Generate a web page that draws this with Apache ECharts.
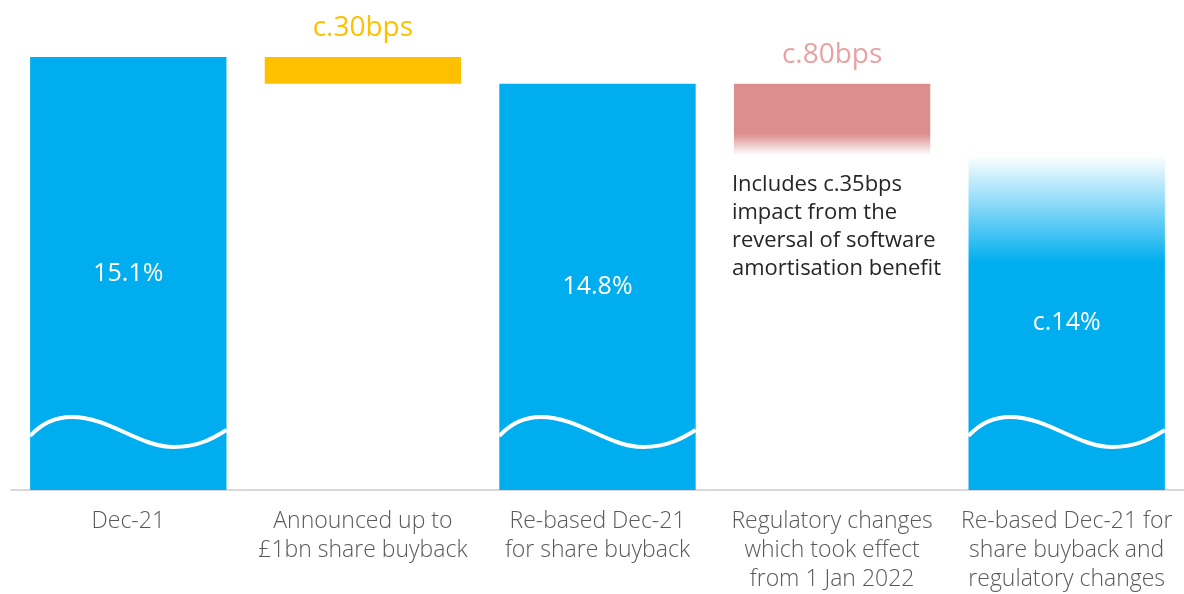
<!DOCTYPE html>
<html>
<head>
<meta charset="utf-8">
<script src="https://cdn.jsdelivr.net/npm/echarts@6/dist/echarts.min.js"></script>
<style>
  html, body { margin: 0; padding: 0; background: #ffffff; overflow: hidden; }
  #chart { width: 1184px; height: 594px; }
</style>
</head>
<body>
<div id="chart"></div>
<script>
// CET1 ratio bridge: Dec-21 to re-based Dec-21
const categories = [
  'Dec-21',
  'Announced up to\n£1bn share buyback',
  'Re-based Dec-21\nfor share buyback',
  'Regulatory changes\nwhich took effect\nfrom 1 Jan 2022',
  'Re-based Dec-21 for\nshare buyback and\nregulatory changes'
];
// ratio levels (%), null where the step is a movement
const totals = [15.1, null, 14.8, null, 14.0];
// movements (percentage points), null where the step is a total
const changes = [null, 0.3, null, 0.8, null];
const totalLabels = ['15.1%', '', '14.8%', '', 'c.14%'];
const changeLabels = ['', 'c.30bps', '', 'c.80bps', ''];
const noteText = 'Includes c.35bps\nimpact from the\nreversal of software\namortisation benefit';

const axisMin = 10.25;
const axisMax = 15.1;
const waveLevel = 10.9;   // vertical position of the broken-axis wave

const BLUE = '#00AEEF';
const YELLOW = '#FFC000';
const PINK = '#DC8E8E';
const FONT = '"Open Sans", "Noto Sans", sans-serif';

// build [index, low, high, kind] rows from the step values
const rows = [];
let level = null;
categories.forEach((c, i) => {
  if (totals[i] != null) {
    level = totals[i];
    rows.push([i, axisMin, totals[i], 'total']);
  } else {
    const hi = level;
    level = level - changes[i];
    rows.push([i, level, hi, 'change']);
  }
});

function renderStep(params, api) {
  const i = api.value(0);
  const low = api.value(1);
  const high = api.value(2);
  const kind = rows[params.dataIndex][3];
  const bw = api.size([1, 0])[0] * 0.837;
  const pTop = api.coord([i, high]);
  const pLow = api.coord([i, low]);
  const x0 = pTop[0] - bw / 2;
  const h = pLow[1] - pTop[1];
  const children = [];

  if (kind === 'total') {
    const isLast = i === categories.length - 1;
    const fill = isLast ? {
      type: 'linear', x: 0, y: 0, x2: 0, y2: 1,
      colorStops: [
        { offset: 0, color: 'rgba(0,174,239,0)' },
        { offset: 0.32, color: BLUE },
        { offset: 1, color: BLUE }
      ]
    } : BLUE;
    children.push({ type: 'rect', shape: { x: x0, y: pTop[1], width: bw, height: h }, style: { fill: fill } });

    // wave marking the broken value axis
    const wy = api.coord([i, waveLevel])[1];
    const sx = bw / 198;
    const P = (dx, dy) => (x0 + dx * sx).toFixed(1) + ' ' + (wy + dy).toFixed(1);
    const d = 'M ' + P(0, 4) +
      ' C ' + P(12, -9) + ', ' + P(25, -15) + ', ' + P(42, -15) +
      ' C ' + P(80, -15) + ', ' + P(110, 15) + ', ' + P(145, 15) +
      ' C ' + P(170, 15) + ', ' + P(185, 6) + ', ' + P(198, -2);
    children.push({ type: 'path', shape: { pathData: d }, style: { fill: null, stroke: '#ffffff', lineWidth: 4 } });

    children.push({
      type: 'text',
      style: {
        text: totalLabels[i], x: pTop[0], y: pTop[1] + h / 2,
        fill: '#ffffff', fontSize: 25, fontFamily: FONT,
        align: 'center', verticalAlign: 'middle'
      }
    });
  } else {
    const fill = i === 1 ? YELLOW : {
      type: 'linear', x: 0, y: 0, x2: 0, y2: 1,
      colorStops: [
        { offset: 0, color: PINK },
        { offset: 0.7, color: PINK },
        { offset: 1, color: 'rgba(220,142,142,0)' }
      ]
    };
    children.push({ type: 'rect', shape: { x: x0, y: pTop[1], width: bw, height: h }, style: { fill: fill } });
    children.push({
      type: 'text',
      style: {
        text: changeLabels[i], x: pTop[0], y: pTop[1] - 29,
        fill: i === 1 ? YELLOW : '#E8A2A2', fontSize: 28, fontFamily: FONT,
        align: 'center', verticalAlign: 'middle'
      }
    });
    if (i === 3) {
      children.push({
        type: 'text',
        style: {
          text: noteText, x: x0 - 2, y: pLow[1] + 16,
          fill: '#262626', fontSize: 22, lineHeight: 28, fontFamily: FONT,
          align: 'left', verticalAlign: 'top'
        }
      });
    }
  }
  return { type: 'group', children: children };
}

const chart = echarts.init(document.getElementById('chart'), null, { renderer: 'canvas' });
chart.setOption({
  animation: false,
  backgroundColor: '#ffffff',
  grid: { left: 11, width: 1183, top: 57, bottom: 101, containLabel: false },
  xAxis: {
    type: 'category',
    data: categories,
    axisTick: { show: false },
    axisLine: { show: true, lineStyle: { color: '#d9d9d9', width: 2 } },
    axisLabel: {
      interval: 0, margin: 17, color: '#595959',
      fontSize: 23, lineHeight: 29, fontFamily: FONT, fontWeight: 300
    }
  },
  yAxis: {
    type: 'value', min: axisMin, max: axisMax, show: false,
    splitLine: { show: false }
  },
  series: [{
    type: 'custom',
    renderItem: renderStep,
    encode: { x: 0, y: [1, 2] },
    data: rows.map(r => [r[0], r[1], r[2]]),
    z: 2
  }]
});
</script>
</body>
</html>
